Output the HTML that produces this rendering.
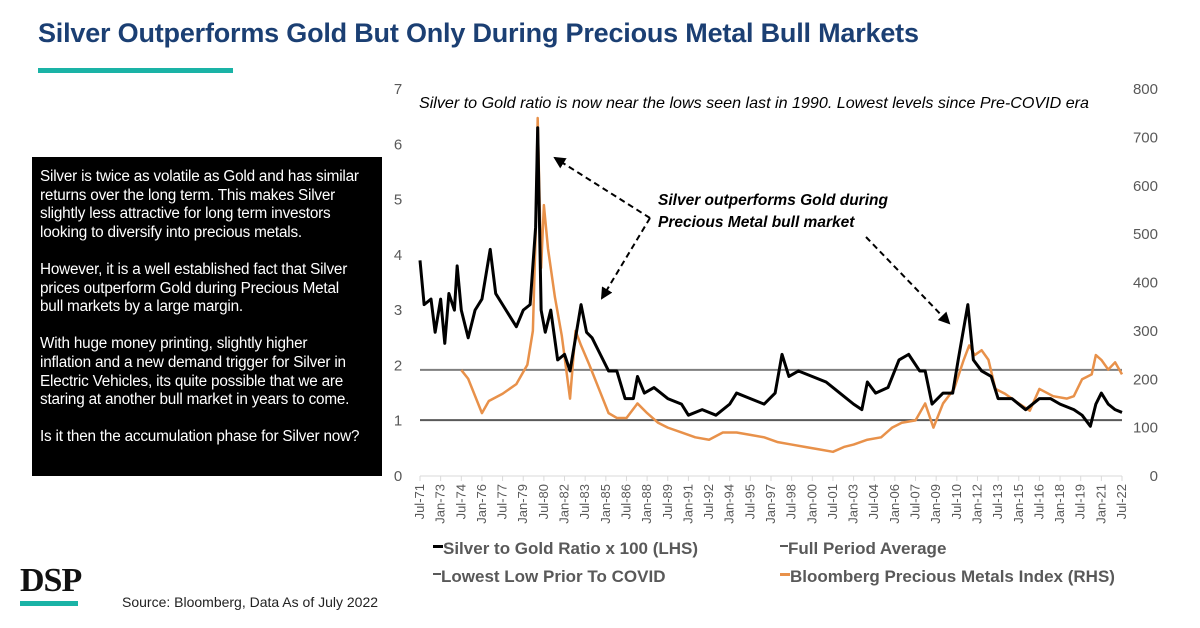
<!DOCTYPE html>
<html><head><meta charset="utf-8"><style>
body{margin:0;width:1200px;height:628px;background:#fff;font-family:"Liberation Sans",sans-serif;position:relative;overflow:hidden}
.abs{position:absolute}
</style></head><body>
<div class="abs" style="left:38px;top:18px;font-size:27px;font-weight:bold;color:#1b3f73;letter-spacing:-0.2px">Silver Outperforms Gold But Only During Precious Metal Bull Markets</div>
<div class="abs" style="left:38px;top:68px;width:195px;height:5px;background:#1ab3a6"></div>
<div class="abs" style="left:32px;top:157px;width:342px;height:308px;background:#000;color:#fff;font-size:15.3px;letter-spacing:-0.2px;line-height:18.6px;padding:11px 0 0 8px;white-space:nowrap;overflow:hidden">
Silver is twice as volatile as Gold and has similar<br>returns over the long term. This makes Silver<br>slightly less attractive for long term investors<br>looking to diversify into precious metals.<br><br>However, it is a well established fact that Silver<br>prices outperform Gold during Precious Metal<br>bull markets by a large margin.<br><br>With huge money printing, slightly higher<br>inflation and a new demand trigger for Silver in<br>Electric Vehicles, its quite possible that we are<br>staring at another bull market in years to come.<br><br>Is it then the accumulation phase for Silver now?</div>
<div class="abs" style="left:20px;top:562px;font-family:'Liberation Serif',serif;font-weight:bold;font-size:34px;color:#111;letter-spacing:-1px">DSP</div>
<div class="abs" style="left:20px;top:601px;width:58px;height:5px;background:#1ab3a6"></div>
<div class="abs" style="left:122px;top:594px;font-size:14px;color:#222">Source: Bloomberg, Data As of July 2022</div>
<svg class="abs" style="left:0;top:0" width="1200" height="628" id="chart">
<defs><marker id="ah" markerWidth="6" markerHeight="6" refX="5" refY="3" orient="auto"><path d="M0,0 L6,3 L0,6 z" fill="#000"/></marker></defs>
<text x="419" y="108" font-size="16.1" font-style="italic" fill="#000">Silver to Gold ratio is now near the lows seen last in 1990. Lowest levels since Pre-COVID era</text>
<text x="658" y="205" font-size="15.5" font-weight="bold" font-style="italic">Silver outperforms Gold during</text>
<text x="658" y="227" font-size="15.5" font-weight="bold" font-style="italic">Precious Metal bull market</text>
<g stroke="#000" stroke-width="2" stroke-dasharray="6,4" fill="none">
<line x1="650" y1="218" x2="555" y2="158" marker-end="url(#ah)"/>
<line x1="650" y1="218" x2="602" y2="298" marker-end="url(#ah)"/>
<line x1="866" y1="237" x2="949" y2="323" marker-end="url(#ah)"/>
</g>
<g id="axes"></g><g id="series"></g>
<g font-size="17" font-weight="bold" fill="#595959">
<rect x="433" y="545" width="10" height="3" fill="#000"/><text x="443" y="554">Silver to Gold Ratio x 100 (LHS)</text>
<rect x="780" y="545" width="8" height="2" fill="#595959"/><text x="788" y="554">Full Period Average</text>
<rect x="433" y="573" width="8" height="2" fill="#595959"/><text x="441" y="582">Lowest Low Prior To COVID</text>
<rect x="780" y="573" width="10" height="3" fill="#e8914a"/><text x="790" y="582">Bloomberg Precious Metals Index (RHS)</text>
</g>
</svg>
<script>
const ratioDates=[1971.5,1971.8,1972.3,1972.6,1973.0,1973.3,1973.6,1974.0,1974.2,1974.5,1975.0,1975.5,1976.0,1976.6,1977.0,1977.5,1978.0,1978.5,1979.0,1979.5,1979.9,1980.05,1980.3,1980.6,1981.0,1981.5,1982.0,1982.4,1982.8,1983.2,1983.6,1984.0,1984.6,1985.2,1985.8,1986.4,1987.0,1987.3,1987.8,1988.5,1989.5,1990.5,1991.0,1992.0,1993.0,1994.0,1994.5,1995.5,1996.5,1997.3,1997.8,1998.3,1999.0,2000.0,2001.0,2002.0,2003.0,2003.6,2004.0,2004.6,2005.5,2006.3,2007.0,2007.8,2008.2,2008.7,2009.5,2010.2,2010.6,2011.3,2011.7,2012.3,2013.0,2013.5,2014.5,2015.5,2016.5,2017.3,2018.0,2019.0,2019.6,2020.2,2020.6,2021.0,2021.5,2022.0,2022.5];
const ratioValues=[3.9,3.1,3.2,2.6,3.2,2.4,3.3,3.0,3.8,3.0,2.5,3.0,3.2,4.1,3.3,3.1,2.9,2.7,3.0,3.1,4.5,6.3,3.0,2.6,3.0,2.1,2.2,1.9,2.5,3.1,2.6,2.5,2.2,1.9,1.9,1.4,1.4,1.8,1.5,1.6,1.4,1.3,1.1,1.2,1.1,1.3,1.5,1.4,1.3,1.5,2.2,1.8,1.9,1.8,1.7,1.5,1.3,1.2,1.7,1.5,1.6,2.1,2.2,1.9,1.9,1.3,1.5,1.5,2.1,3.1,2.1,1.9,1.8,1.4,1.4,1.2,1.4,1.4,1.3,1.2,1.1,0.9,1.3,1.5,1.3,1.2,1.15];
const bpmiDates=[1974.5,1975.0,1976.0,1976.5,1977.5,1978.5,1979.3,1979.7,1979.9,1980.05,1980.3,1980.5,1980.8,1981.3,1981.8,1982.4,1982.8,1983.2,1983.8,1984.5,1985.2,1985.8,1986.5,1987.3,1988.0,1988.8,1989.5,1990.5,1991.5,1992.5,1993.5,1994.5,1995.5,1996.5,1997.5,1998.5,1999.5,2000.5,2001.5,2002.3,2003.0,2004.0,2005.0,2005.8,2006.5,2007.5,2008.2,2008.8,2009.5,2010.3,2011.0,2011.4,2011.8,2012.3,2012.8,2013.3,2014.0,2015.0,2015.8,2016.5,2017.5,2018.5,2019.0,2019.6,2020.3,2020.6,2021.0,2021.5,2022.0,2022.5];
const bpmiValues=[219,201,130,155,170,190,230,300,500,740,430,560,470,370,290,160,300,270,230,180,130,120,120,150,130,110,100,90,80,75,90,90,85,80,70,65,60,55,50,60,65,75,80,100,110,115,150,100,150,180,240,270,250,260,240,180,170,150,135,180,165,160,165,200,210,250,240,220,235,210];
const fullAverage=1.92, lowestLow=1.01;
const leftTicks=[0,1,2,3,4,5,6,7];
const rightTicks=[0,100,200,300,400,500,600,700,800];
const xLabels=[];
for(let i=0;i<35;i++){const t=1971.5+i*1.5;const y=Math.floor(t);xLabels.push((t%1?"Jul-":"Jan-")+String(y%100).padStart(2,"0"));}
const X0=420,X1=1122,Y0=476,Y1=89;
const xs=t=>X0+(t-1971.5)/(2022.5-1971.5)*(X1-X0);
const yl=v=>Y0-v/7*(Y0-Y1);
const yr=v=>Y0-v/800*(Y0-Y1);
const NS="http://www.w3.org/2000/svg";
const ax=document.getElementById("axes"),se=document.getElementById("series");
function mk(tag,attrs,parent){const e=document.createElementNS(NS,tag);for(const k in attrs)e.setAttribute(k,attrs[k]);parent.appendChild(e);return e;}
mk("line",{x1:X0,x2:X1,y1:Y0,y2:Y0,stroke:"#d9d9d9"},ax);
leftTicks.forEach(v=>{const t=mk("text",{x:398,y:yl(v)+5,"font-size":15,fill:"#595959","text-anchor":"middle"},ax);t.textContent=v;

});
rightTicks.forEach(v=>{const t=mk("text",{x:1158,y:yr(v)+5,"font-size":15,fill:"#595959","text-anchor":"end"},ax);t.textContent=v;

});
xLabels.forEach((s,i)=>{const x=X0+i*(X1-X0)/34;mk("line",{x1:x,x2:x,y1:Y0,y2:Y0+5,stroke:"#d9d9d9"},ax);
const t=mk("text",{x:0,y:0,"font-size":13,fill:"#595959","text-anchor":"end",transform:`translate(${x+4},${Y0+8}) rotate(-90)`},ax);t.textContent=s;

});
const avg=mk("line",{x1:X0,x2:X1,y1:yl(fullAverage),y2:yl(fullAverage),stroke:"#7f7f7f","stroke-width":2},se);


const low=mk("line",{x1:X0,x2:X1,y1:yl(lowestLow),y2:yl(lowestLow),stroke:"#595959","stroke-width":2},se);


const bp=mk("polyline",{points:bpmiDates.map((d,i)=>xs(d)+","+yr(bpmiValues[i])).join(" "),fill:"none",stroke:"#e8914a","stroke-width":2.5,"stroke-linejoin":"round"},se);


const rl=mk("polyline",{points:ratioDates.map((d,i)=>xs(d)+","+yl(ratioValues[i])).join(" "),fill:"none",stroke:"#000","stroke-width":3,"stroke-linejoin":"round"},se);


</script>
</body></html>
